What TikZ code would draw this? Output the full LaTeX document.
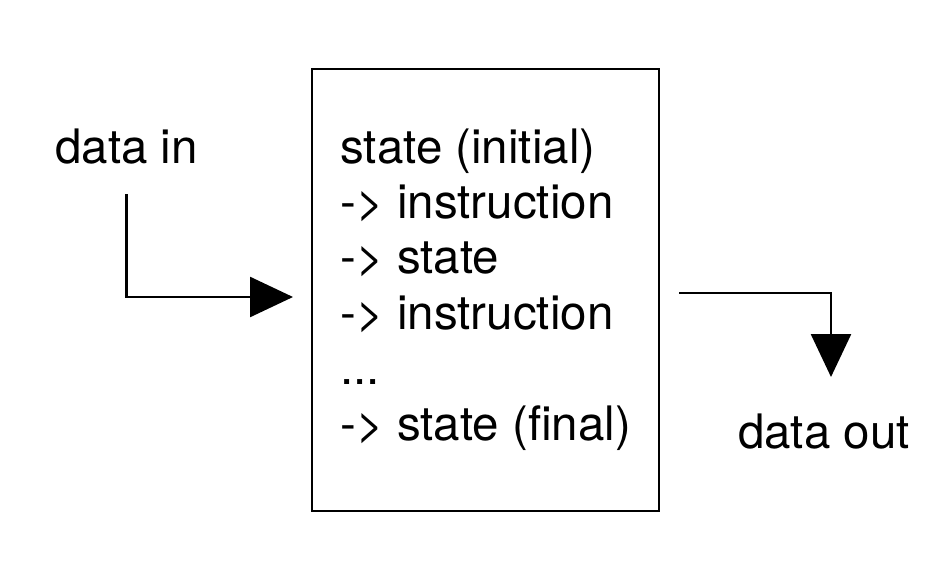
\documentclass[tikz,border=0pt]{standalone}
\usepackage{fontspec}
\setmainfont{TeX Gyre Heros}
\usetikzlibrary{arrows.meta,positioning,calc}

\begin{document}
\begin{tikzpicture}[x=0.5pt,y=-0.5pt,
    flow/.style={line width=1.3pt, -{Triangle[length=21.5pt,width=20pt]}},
    lbl/.style={font=\fontsize{23.75}{27.7}\selectfont, inner sep=0pt}]
            \useasboundingbox (0,0) rectangle (949,567);

            % Program box
            \node[draw, line width=1pt, rectangle, minimum width=173.5pt, minimum height=221pt] (box) at (485.5,290) {};
            \node[lbl, align=left, anchor=north west] (prog) at (340,128) {
                state (initial)\\
                -> instruction\\
                -> state\\
                -> instruction\\
                ...\\
                -> state (final)
            };

            % Labels
            \node[lbl] (datain) at (126.5,147) {data in};
            \node[lbl] (dataout) at (824,432) {data out};

            % Arrows
            \coordinate (inend) at (293,297);
            \coordinate (outstart) at (679,293);
            \coordinate (outend) at (831,377);
            \draw[flow] ([yshift=-14.5pt]datain.south) |- (inend);
            \draw[flow] (outstart) -| (outend);
        \end{tikzpicture}
\end{document}
